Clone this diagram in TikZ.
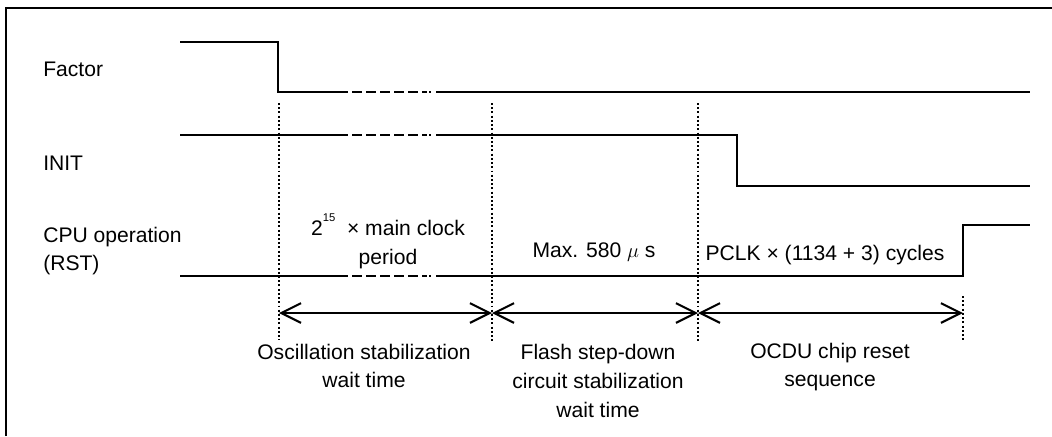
\documentclass[tikz,border=0pt]{standalone}
\usepackage{fontspec}
\setmainfont{Liberation Sans}
\usetikzlibrary{arrows.meta}

\begin{document}
\begin{tikzpicture}[
    x=0.025cm, y=-0.025cm,
    sig/.style={line width=1.6pt},
    gapdash/.style={line width=1.6pt, dash pattern=on 7pt off 3pt on 7pt off 3pt on 7pt off 3pt on 7pt off 3pt on 7pt off 3pt on 3pt off 2pt on 1.5pt off 3pt},
    guide/.style={line width=1.3pt, dash pattern=on 1.4pt off 1.6pt},
    span/.style={{Straight Barb[length=14pt,width=14pt]}-{Straight Barb[length=14pt,width=14pt]}, line width=1.5pt},
    lbl/.style={font=\fontsize{15}{20.5}\selectfont, inner sep=0pt},
    note/.style={lbl, align=center}
]
\useasboundingbox (0,0) rectangle (1052,436);

% frame (only top and left edges fall inside the page)
\draw[line width=1pt] (6,436) -- (6,8) -- (1052,8);

% signal names
\node[lbl, anchor=west] (factor) at (43,69) {Factor};
\node[lbl, anchor=west] (init) at (43,163) {INIT};
\node[lbl, anchor=west, align=left] (rst) at (43,251) {CPU operation\\(RST)};

% Factor
\draw[sig] (180,42) -- (278,42) -- (278,92) -- (348,92);
\draw[gapdash] (352,92) -- (434,92);
\draw[sig] (436,92) -- (1030,92);

% INIT
\draw[sig] (180,135) -- (348,135);
\draw[gapdash] (352,135) -- (434,135);
\draw[sig] (436,135) -- (737,135) -- (737,186) -- (1030,186);

% CPU operation (RST)
\draw[sig] (180,276) -- (348,276);
\draw[gapdash] (352,276) -- (434,276);
\draw[sig] (436,276) -- (963,276) -- (963,225) -- (1030,225);

% phase boundaries
\coordinate (b1) at (279,313);
\coordinate (b2) at (492,313);
\coordinate (b3) at (698,313);
\coordinate (b4) at (963,313);
\draw[guide] (279,103) -- (279,340);
\draw[guide] (492,103) -- (492,342);
\draw[guide] (698,103) -- (698,342);
\draw[guide] (963,296) -- (963,341);

% durations
\node[note] (osc) at (388,241) {2\raisebox{1.3ex}{\fontsize{8}{8}\selectfont 15}\ \ × main clock\\period};
\node[lbl] (flash) at (594,252) {Max. 580 $\mu$ s};
\node[lbl] (pclk) at (825,255) {PCLK × (1134 + 3) cycles};

\draw[span] (b1) -- (b2);
\draw[span] (b2) -- (b3);
\draw[span] (b3) -- (b4);

% phase names
\node[note] (oscwait) at (364,366) {Oscillation stabilization\\wait time};
\node[note] (flashwait) at (598,381) {Flash step-down\\circuit stabilization\\wait time};
\node[note] (ocdu) at (830,367) {OCDU chip reset\\sequence};

\end{tikzpicture}
\end{document}
